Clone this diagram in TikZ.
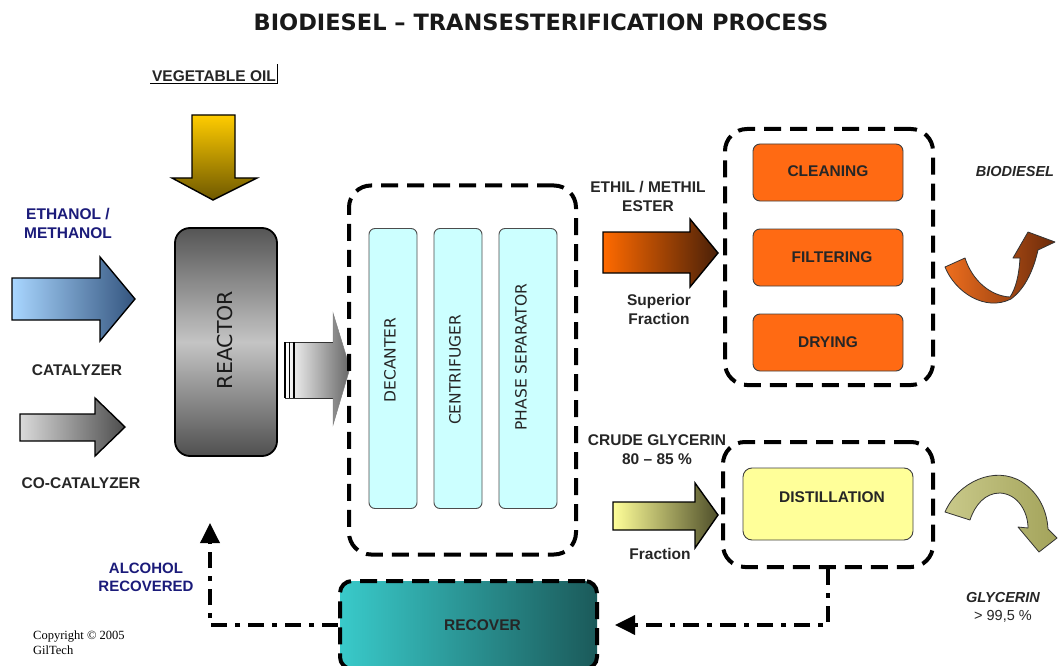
\documentclass[tikz,border=0pt]{standalone}
\usepackage{fontspec}
\usetikzlibrary{arrows.meta}
\newfontfamily\labfont{Liberation Sans}
\newfontfamily\titlefont{DejaVu Sans}
\newfontfamily\copyfont{Liberation Serif}

\definecolor{ink}{HTML}{262626}
\definecolor{navyink}{HTML}{1B1B7A}
\definecolor{blueL}{HTML}{A9D6FF}
\definecolor{blueR}{HTML}{34557F}
\definecolor{grayL}{HTML}{DADADA}
\definecolor{grayR}{HTML}{4D4D4D}
\definecolor{goldT}{HTML}{FFCC00}
\definecolor{goldB}{HTML}{6E5800}
\definecolor{orangeL}{HTML}{FF6A00}
\definecolor{orangeM}{HTML}{E5650F}
\definecolor{orangeR}{HTML}{4A2008}
\definecolor{creamL}{HTML}{FFFF99}
\definecolor{creamM}{HTML}{C8C878}
\definecolor{creamR}{HTML}{4F4F2A}
\definecolor{cyanfill}{HTML}{CCFFFF}
\definecolor{stepfill}{HTML}{FF6A13}
\definecolor{distfill}{HTML}{FFFF99}
\definecolor{tealL}{HTML}{39CACA}
\definecolor{tealR}{HTML}{1B5A5A}
\definecolor{reacTop}{HTML}{555555}
\definecolor{reacMid}{HTML}{C4C4C4}
\definecolor{reacBot}{HTML}{505050}
\definecolor{ribO1}{HTML}{EE6E1E}
\definecolor{ribO2}{HTML}{6B2A0A}
\definecolor{ribY1}{HTML}{C9C98A}
\definecolor{ribY2}{HTML}{E6E6A8}
\definecolor{ribY3}{HTML}{A3A35A}

\tikzset{
  lab/.style={font=\labfont\bfseries\fontsize{15.5}{19}\selectfont,
    text=ink, align=center, inner sep=0pt},
  navylab/.style={lab, text=navyink},
  itlab/.style={font=\labfont\bfseries\itshape\fontsize{14.5}{18}\selectfont,
    text=ink, align=center, inner sep=0pt},
  vlab/.style={font=\titlefont\fontsize{15.5}{18}\selectfont, text=black!85,
    rotate=90, inner sep=0pt},
  dbox/.style={draw=black, line width=4pt, dash pattern=on 17pt off 9pt,
    rounded corners=22pt, inner sep=0pt},
  unitbox/.style={draw=black!70, line width=0.9pt, rounded corners=6pt,
    fill=cyanfill, inner sep=0pt},
  stepbox/.style={draw=black!75, line width=0.9pt, rounded corners=7pt,
    fill=stepfill, inner sep=0pt, minimum width=150pt, minimum height=57pt},
  arrowline/.style={draw=black, line width=1.4pt, line join=miter},
  ribbon/.style={draw=black!80, line width=0.8pt, line join=round},
  dashdot/.style={line width=3.6pt, dash pattern=on 16pt off 8pt on 5pt off 8pt},
  tipbig/.style={-{Triangle[length=20pt,width=19pt]}}
}

\begin{document}
\begin{tikzpicture}[x=1pt,y=-1pt]
\useasboundingbox (0,0) rectangle (1058,666);
\fill[white] (0,0) rectangle (1058,666);

% heading
\node[font=\titlefont\bfseries\fontsize{22.5}{26}\selectfont, text=black!90, inner sep=0pt]
  (title) at (541,22) {BIODIESEL \textendash\ TRANSESTERIFICATION PROCESS};

% feed labels
\node[lab, inner sep=1.5pt] (vegoil) at (214,76) {VEGETABLE OIL};
\draw[line width=0.9pt] (vegoil.south west) -- (vegoil.south east) -- ++(0,-19);
\node[navylab] (ethanol) at (68,223) {ETHANOL /\\METHANOL};
\node[lab] (catal) at (77,370) {CATALYZER};
\node[lab] (cocatal) at (81,483) {CO-CATALYZER};

% feed arrows
\shade[arrowline, top color=goldT, bottom color=goldB]
  (192,115) -- (235,115) -- (235,178) -- (257,178) -- (213,200) -- (172,178) -- (192,178) -- cycle;
\shade[arrowline, left color=blueL, right color=blueR]
  (12,278) -- (100,278) -- (100,257) -- (135,299) -- (100,341) -- (100,320) -- (12,320) -- cycle;
\shade[arrowline, left color=grayL, right color=grayR]
  (20,414) -- (95,414) -- (95,398) -- (125,427) -- (95,456) -- (95,441) -- (20,441) -- cycle;

% reactor
\node[draw=black, line width=1.8pt, rounded corners=15pt, minimum width=102pt,
  minimum height=228pt, top color=reacTop, bottom color=reacBot, middle color=reacMid,
  inner sep=0pt] (reactor) at (226,342) {};
\node[font=\titlefont\fontsize{20.5}{22}\selectfont, text=black!90, rotate=90, inner sep=0pt]
  (reactorlbl) at (225,340) {REACTOR};

% transfer arrow from the reactor
\shade[left color=white, right color=black!60]
  (285,342) -- (333,342) -- (333,313) -- (350,368) -- (333,425) -- (333,398) -- (285,398) -- cycle;
\draw[line width=0.8pt, black!80] (285,342) -- (333,342) (285,398) -- (333,398);
\draw[line width=0.5pt, black!50] (333,342) -- (333,313) -- (350,368) -- (333,425) -- (333,398);
\draw[line width=1.6pt] (285,342) -- (285,398);
\draw[line width=0.8pt] (289,342) -- (289,398);
\draw[line width=1.2pt] (294,342) -- (294,398);

% separation stage
\node[dbox, minimum width=227pt, minimum height=369pt] (sepbox) at (462.5,370) {};
\node[unitbox, minimum width=48pt, minimum height=280pt] (decanter) at (393,368.5) {};
\node[unitbox, minimum width=48pt, minimum height=280pt] (centrif) at (458,368.5) {};
\node[unitbox, minimum width=58pt, minimum height=280pt] (phasesep) at (528,368.5) {};
\node[vlab] (decanterlbl) at (390,360) {DECANTER};
\node[vlab] (centriflbl) at (455,370) {CENTRIFUGER};
\node[vlab] (phaseseplbl) at (521,357) {PHASE SEPARATOR};

% ester route
\node[lab] (ester) at (648,196) {ETHIL / METHIL\\ESTER};
\shade[arrowline, left color=orangeL, middle color=orangeM, right color=orangeR]
  (603,232) -- (690,232) -- (690,219) -- (718,253) -- (690,287) -- (690,273) -- (603,273) -- cycle;
\node[lab] (superior) at (659,309) {Superior\\Fraction};

\node[dbox, minimum width=208pt, minimum height=256pt] (finbox) at (829,257) {};
\node[stepbox] (cleaning) at (828,172.5) {};
\node[stepbox] (filtering) at (828,257.5) {};
\node[stepbox] (drying) at (828,342.5) {};
\node[lab] (cleaninglbl) at (828,171) {CLEANING};
\node[lab] (filteringlbl) at (832,257) {FILTERING};
\node[lab] (dryinglbl) at (828,342) {DRYING};

\node[itlab] (biodiesel) at (1015,172) {BIODIESEL};
\shade[ribbon, left color=ribO1, right color=ribO2]
  (945,267) .. controls (955,292) and (985,312) .. (1011,299)
  .. controls (1026,288) and (1034,268) .. (1038,250)
  -- (1055,242) -- (1028,232) -- (1013,258) -- (1020,258)
  .. controls (1019,275) and (1016,288) .. (1010,297)
  .. controls (990,296) and (972,280) .. (965,258) -- cycle;

% glycerin route
\node[lab] (crude) at (657,450) {CRUDE GLYCERIN\\80 \textendash\ 85 \%};
\shade[arrowline, left color=creamL, middle color=creamM, right color=creamR]
  (613,502) -- (695,502) -- (695,483) -- (718,515) -- (695,548) -- (695,530) -- (613,530) -- cycle;
\node[lab] (fraction) at (660,554) {Fraction};

\node[dbox, minimum width=210pt, minimum height=125pt] (distbox) at (828,504.5) {};
\node[draw=black!75, line width=0.9pt, rounded corners=9pt, fill=distfill,
  minimum width=170pt, minimum height=72pt, inner sep=0pt] (distill) at (828,504) {};
\node[lab] (distilllbl) at (832,497) {DISTILLATION};

\shade[ribbon, left color=ribY1, middle color=ribY2, right color=ribY3]
  (945,512) .. controls (958,482) and (995,465) .. (1022,482)
  .. controls (1040,494) and (1047,512) .. (1048,529)
  -- (1057,538) -- (1039,552) -- (1018,527) -- (1028,528)
  .. controls (1028,512) and (1018,494) .. (1000,493)
  .. controls (985,493) and (975,505) .. (970,520) -- cycle;
\node[itlab] (glycerin) at (1003,607) {GLYCERIN\\{\upshape\mdseries > 99,5 \%}};

% alcohol recovery
\node[dbox, rounded corners=12pt, left color=tealL, right color=tealR,
  minimum width=257pt, minimum height=88pt,
  label={[lab, text=black!85, xshift=14pt]center:RECOVER}] (recover) at (468.5,625) {};
\coordinate (alcin) at (210,523);
\draw[dashdot, tipbig, shorten >=16pt] (distbox.south) |- (recover.east);
\draw[dashdot, tipbig] (recover.west) -| (alcin);
\node[navylab, font=\labfont\bfseries\fontsize{15}{18}\selectfont] (alcohol) at (146,577) {ALCOHOL\\RECOVERED};

% credit
\node[font=\copyfont\fontsize{12.5}{14.5}\selectfont, align=left, anchor=north west,
  inner sep=0pt, text=black] (credit) at (33,631) {Copyright \textcopyright\ 2005\\GilTech};
\end{tikzpicture}
\end{document}
